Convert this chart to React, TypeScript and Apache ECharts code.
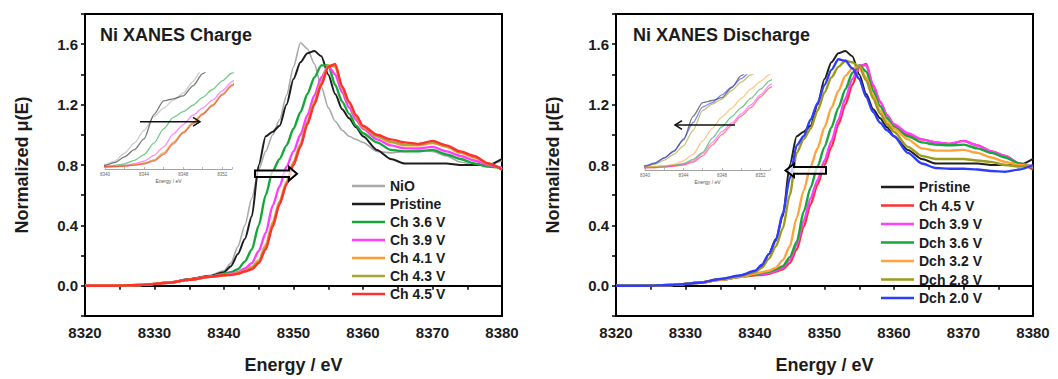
import React, { useEffect, useRef } from "react";
import * as echarts from "echarts";

// Energy grid (eV)
const ENERGY = [8320, 8324, 8328, 8332, 8335, 8338, 8340, 8341, 8342, 8343, 8344, 8345, 8346, 8347, 8348, 8349, 8350, 8351, 8352, 8353, 8354, 8355, 8356, 8357, 8358, 8359, 8360, 8362, 8364, 8366, 8368, 8370, 8372, 8374, 8376, 8378, 8380];

// Charge panel spectra
const NIO = [0.00, 0.00, 0.005, 0.02, 0.045, 0.07, 0.10, 0.15, 0.26, 0.40, 0.58, 0.77, 0.89, 1.00, 1.10, 1.26, 1.45, 1.61, 1.57, 1.47, 1.32, 1.18, 1.09, 1.03, 0.99, 0.97, 0.95, 0.89, 0.88, 0.89, 0.90, 0.89, 0.86, 0.82, 0.80, 0.80, 0.83];
const PRISTINE = [0.00, 0.00, 0.005, 0.02, 0.045, 0.065, 0.09, 0.13, 0.21, 0.31, 0.46, 0.80, 0.99, 1.02, 1.06, 1.20, 1.37, 1.48, 1.54, 1.555, 1.52, 1.40, 1.27, 1.17, 1.11, 1.05, 0.99, 0.90, 0.84, 0.81, 0.81, 0.81, 0.81, 0.80, 0.80, 0.80, 0.84];
const CH36 = [0.00, 0.00, 0.005, 0.02, 0.04, 0.06, 0.08, 0.09, 0.11, 0.16, 0.24, 0.40, 0.60, 0.76, 0.84, 0.93, 1.04, 1.15, 1.27, 1.38, 1.46, 1.46, 1.33, 1.22, 1.14, 1.06, 1.01, 0.95, 0.90, 0.89, 0.89, 0.90, 0.87, 0.84, 0.81, 0.79, 0.78];
const CH39 = [0.00, 0.00, 0.005, 0.02, 0.04, 0.06, 0.075, 0.08, 0.09, 0.115, 0.15, 0.23, 0.35, 0.53, 0.66, 0.79, 0.89, 1.00, 1.13, 1.26, 1.38, 1.455, 1.40, 1.28, 1.18, 1.10, 1.04, 0.97, 0.93, 0.91, 0.91, 0.92, 0.89, 0.86, 0.83, 0.80, 0.78];
const CH41 = [0.00, 0.00, 0.005, 0.02, 0.04, 0.06, 0.07, 0.075, 0.085, 0.10, 0.125, 0.17, 0.27, 0.42, 0.56, 0.69, 0.82, 0.94, 1.09, 1.22, 1.35, 1.46, 1.45, 1.31, 1.21, 1.12, 1.05, 0.99, 0.95, 0.93, 0.93, 0.945, 0.92, 0.88, 0.85, 0.81, 0.77];
const CH43 = [0.00, 0.00, 0.005, 0.02, 0.04, 0.06, 0.07, 0.073, 0.082, 0.097, 0.12, 0.16, 0.255, 0.405, 0.55, 0.68, 0.81, 0.93, 1.08, 1.21, 1.34, 1.455, 1.46, 1.315, 1.215, 1.125, 1.055, 0.99, 0.955, 0.935, 0.935, 0.95, 0.925, 0.885, 0.855, 0.81, 0.77];
const CH45 = [0.00, 0.00, 0.005, 0.02, 0.04, 0.06, 0.07, 0.072, 0.08, 0.095, 0.11, 0.15, 0.24, 0.39, 0.54, 0.67, 0.80, 0.92, 1.07, 1.20, 1.33, 1.45, 1.47, 1.32, 1.22, 1.13, 1.06, 1.00, 0.97, 0.95, 0.94, 0.96, 0.93, 0.89, 0.86, 0.81, 0.77];

// Discharge panel spectra
const DCH39 = [0.00, 0.00, 0.005, 0.02, 0.04, 0.06, 0.075, 0.078, 0.085, 0.10, 0.12, 0.17, 0.27, 0.43, 0.58, 0.70, 0.83, 0.96, 1.10, 1.24, 1.37, 1.46, 1.46, 1.33, 1.22, 1.13, 1.07, 1.01, 0.97, 0.95, 0.94, 0.96, 0.93, 0.89, 0.86, 0.81, 0.79];
const DCH36 = [0.00, 0.00, 0.005, 0.02, 0.04, 0.06, 0.075, 0.085, 0.095, 0.11, 0.13, 0.19, 0.29, 0.49, 0.65, 0.79, 0.92, 1.05, 1.18, 1.30, 1.41, 1.46, 1.42, 1.29, 1.19, 1.11, 1.05, 0.99, 0.95, 0.935, 0.93, 0.935, 0.91, 0.88, 0.85, 0.81, 0.78];
const DCH32 = [0.00, 0.00, 0.005, 0.02, 0.04, 0.06, 0.08, 0.09, 0.10, 0.12, 0.17, 0.26, 0.45, 0.63, 0.79, 0.91, 1.05, 1.18, 1.29, 1.39, 1.44, 1.455, 1.38, 1.26, 1.16, 1.09, 1.04, 0.97, 0.91, 0.895, 0.895, 0.90, 0.88, 0.85, 0.82, 0.80, 0.79];
const DCH28 = [0.00, 0.00, 0.005, 0.02, 0.045, 0.065, 0.09, 0.12, 0.18, 0.26, 0.38, 0.60, 0.88, 0.97, 1.04, 1.16, 1.28, 1.38, 1.45, 1.49, 1.48, 1.45, 1.36, 1.24, 1.14, 1.07, 1.02, 0.92, 0.86, 0.84, 0.84, 0.84, 0.83, 0.82, 0.80, 0.79, 0.79];
const DCH20 = [0.00, 0.00, 0.005, 0.02, 0.045, 0.07, 0.10, 0.14, 0.21, 0.30, 0.48, 0.71, 0.93, 0.99, 1.10, 1.21, 1.33, 1.43, 1.50, 1.49, 1.44, 1.37, 1.25, 1.15, 1.08, 1.03, 0.99, 0.88, 0.81, 0.78, 0.775, 0.775, 0.77, 0.76, 0.755, 0.77, 0.80];

const CHARGE_NAMES = ["NiO", "Pristine", "Ch 3.6 V", "Ch 3.9 V", "Ch 4.1 V", "Ch 4.3 V", "Ch 4.5 V"];
const DISCHARGE_NAMES = ["Pristine", "Ch 4.5 V", "Dch 3.9 V", "Dch 3.6 V", "Dch 3.2 V", "Dch 2.8 V", "Dch 2.0 V"];
const X_TICKS = [8320, 8330, 8340, 8350, 8360, 8370, 8380];
const Y_TICKS = [0.0, 0.4, 0.8, 1.2, 1.6];
const INSET_TICKS = [8340, 8344, 8348, 8352];

const FONT = "'Liberation Sans', Arial, Helvetica, sans-serif";
const TXT = "#1c1c1c";

const CHARGE = [
  { name: "NiO", values: NIO, color: "#a9a9a9", width: 1.6 },
  { name: "Pristine", values: PRISTINE, color: "#1e1e1e", width: 2 },
  { name: "Ch 3.6 V", values: CH36, color: "#14a83a", width: 2.4 },
  { name: "Ch 3.9 V", values: CH39, color: "#ff3cff", width: 2.4 },
  { name: "Ch 4.1 V", values: CH41, color: "#ff9d2e", width: 2.4 },
  { name: "Ch 4.3 V", values: CH43, color: "#a6a836", width: 2.4 },
  { name: "Ch 4.5 V", values: CH45, color: "#ff3030", width: 2.4 },
];
const DISCHARGE = [
  { name: "Pristine", values: PRISTINE, color: "#1e1e1e", width: 2 },
  { name: "Ch 4.5 V", values: CH45, color: "#ff3030", width: 2.4 },
  { name: "Dch 3.9 V", values: DCH39, color: "#ff3cff", width: 2.4 },
  { name: "Dch 3.6 V", values: DCH36, color: "#14a83a", width: 2.4 },
  { name: "Dch 3.2 V", values: DCH32, color: "#ffa33a", width: 2.4 },
  { name: "Dch 2.8 V", values: DCH28, color: "#9d9b1c", width: 2.4 },
  { name: "Dch 2.0 V", values: DCH20, color: "#2f3cff", width: 2.4 },
];

function mainX(gridIndex: number) {
  return {
    type: "value", gridIndex, min: 8320, max: 8380, interval: 5,
    name: "Energy / eV", nameLocation: "middle", nameGap: 40,
    nameTextStyle: { fontSize: 18, fontWeight: "bold", color: TXT, fontFamily: FONT },
    axisLine: { show: true, lineStyle: { color: "#000", width: 2 } },
    axisTick: { show: true, length: 4, lineStyle: { color: "#000", width: 1.5 } },
    axisLabel: {
      margin: 9, fontSize: 15, fontWeight: "bold", color: TXT, fontFamily: FONT,
      formatter: (v: number) => (X_TICKS.includes(Math.round(v)) ? String(Math.round(v)) : ""),
    },
    splitLine: { show: false },
  };
}
function mainY(gridIndex: number) {
  return {
    type: "value", gridIndex, min: -0.2, max: 1.8, interval: 0.2,
    name: "Normalized \u03bc(E)", nameLocation: "middle", nameGap: 54, nameRotate: 90,
    nameTextStyle: { fontSize: 18, fontWeight: "bold", color: TXT, fontFamily: FONT },
    axisLine: { show: true, lineStyle: { color: "#000", width: 2 } },
    axisTick: { show: true, length: 4, lineStyle: { color: "#000", width: 1.5 } },
    axisLabel: {
      margin: 7, fontSize: 15, fontWeight: "bold", color: TXT, fontFamily: FONT,
      formatter: (v: number) => {
        const r = Math.round(v * 10) / 10;
        return Y_TICKS.some((t) => Math.abs(t - r) < 1e-6) ? r.toFixed(1) : "";
      },
    },
    splitLine: { show: false },
  };
}
function insetX(gridIndex: number) {
  return {
    type: "value", gridIndex, min: 8340, max: 8353, interval: 2,
    name: "Energy / eV", nameLocation: "middle", nameGap: 9,
    nameTextStyle: { fontSize: 5, color: "#555", fontFamily: FONT },
    axisLine: { show: true, lineStyle: { color: "#8a8a8a", width: 0.8 } },
    axisTick: { show: true, inside: true, length: 2, lineStyle: { color: "#8a8a8a", width: 0.6 } },
    axisLabel: {
      margin: 3, fontSize: 4.5, color: "#666", fontFamily: FONT,
      formatter: (v: number) => (INSET_TICKS.includes(Math.round(v)) ? String(Math.round(v)) : ""),
    },
    splitLine: { show: false },
  };
}
function insetY(gridIndex: number) {
  return { type: "value", gridIndex, min: 0.04, max: 1.38, show: false, splitLine: { show: false } };
}

function buildSeries(list: any[], xIdx: number, inset: boolean) {
  return list.map((s) => ({
    type: "line",
    name: s.name,
    xAxisIndex: xIdx,
    yAxisIndex: xIdx,
    data: ENERGY.map((e, i) => [e, s.values[i]]),
    symbol: "none",
    smooth: 0.25,
    smoothMonotone: "x",
    clip: true,
    silent: inset,
    lineStyle: { color: s.color, width: inset ? 1.3 : s.width, opacity: inset ? 0.6 : 1 },
    itemStyle: { color: s.color },
    z: inset ? 3 : 2,
  }));
}

function legend(names: string[], left: number, top: number, gap: number) {
  return {
    data: names, orient: "vertical", left, top, padding: 0,
    icon: "rect",
    itemWidth: 33, itemHeight: 2.4, itemGap: gap, selectedMode: false,
    textStyle: { fontSize: 14, lineHeight: 14, fontWeight: "bold", color: TXT, fontFamily: FONT },
  };
}

export default function App() {
  const ref = useRef<HTMLDivElement>(null);
  useEffect(() => {
    if (!ref.current) return;
    const chart = echarts.init(ref.current, null, { renderer: "svg" });
    const arrowStroke = { stroke: "#000", lineWidth: 2, fill: "rgba(255,255,255,0.75)" };
    chart.setOption({
      animation: false,
      backgroundColor: "#fff",
      title: [
        { text: "Ni XANES Charge", left: 100, top: 26, padding: 0, textStyle: { fontSize: 18, fontWeight: "bold", color: TXT, fontFamily: FONT } },
        { text: "Ni XANES Discharge", left: 633, top: 26, padding: 0, textStyle: { fontSize: 18, fontWeight: "bold", color: TXT, fontFamily: FONT } },
      ],
      legend: [legend(CHARGE_NAMES, 352, 179, 4), legend(DISCHARGE_NAMES, 881, 180, 4.5)],
      grid: [
        { left: 85, top: 14, width: 417, height: 309, show: true, borderColor: "#000", borderWidth: 2, backgroundColor: "transparent" },
        { left: 616, top: 14, width: 417, height: 309, show: true, borderColor: "#000", borderWidth: 2, backgroundColor: "transparent" },
        { left: 105, top: 73, width: 127, height: 96 },
        { left: 645, top: 75, width: 125, height: 95 },
      ],
      xAxis: [mainX(0), mainX(1), insetX(2), insetX(3)],
      yAxis: [mainY(0), mainY(1), insetY(2), insetY(3)],
      series: [
        ...buildSeries(CHARGE, 0, false),
        ...buildSeries(DISCHARGE, 1, false),
        ...buildSeries(CHARGE, 2, true),
        ...buildSeries(DISCHARGE, 3, true),
      ],
      graphic: [
        // main charge arrow (pointing right)
        { type: "polygon", z: 10, shape: { points: [[255, 170.5], [289, 170.5], [289, 167], [297, 173.8], [289, 180.6], [289, 177], [255, 177]] }, style: arrowStroke },
        // main discharge arrow (pointing left)
        { type: "polygon", z: 10, shape: { points: [[826, 167], [794, 167], [794, 163.8], [785.5, 170.4], [794, 177], [794, 173.8], [826, 173.8]] }, style: arrowStroke },
        // inset arrows
        { type: "line", z: 10, shape: { x1: 140, y1: 121.7, x2: 200, y2: 121.7 }, style: { stroke: "#111", lineWidth: 1.5 } },
        { type: "polyline", z: 10, shape: { points: [[193, 117.3], [200, 121.7], [193, 126.1]] }, style: { stroke: "#111", lineWidth: 1.5, fill: "none" } },
        { type: "line", z: 10, shape: { x1: 735, y1: 125, x2: 675, y2: 125 }, style: { stroke: "#111", lineWidth: 1.5 } },
        { type: "polyline", z: 10, shape: { points: [[682, 120.6], [675, 125], [682, 129.4]] }, style: { stroke: "#111", lineWidth: 1.5, fill: "none" } },
      ],
    });
    return () => chart.dispose();
  }, []);
  return <div ref={ref} style={{ position: "fixed", left: 0, top: 0, width: 1058, height: 379, background: "#fff" }} />;
}
